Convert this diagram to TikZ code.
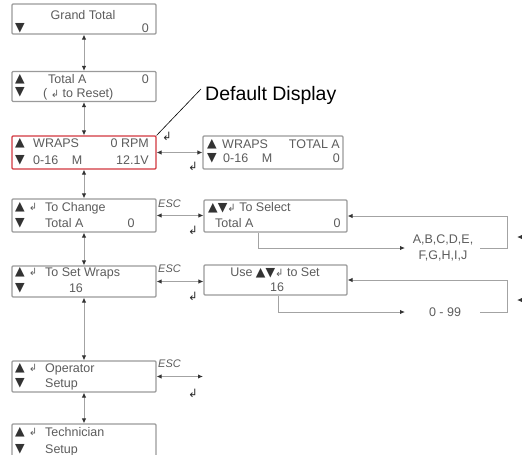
\documentclass[tikz,border=0pt]{standalone}
\usepackage{fontspec}
\setmainfont{Liberation Sans}
\newfontfamily\symfont{DejaVu Sans}
\usetikzlibrary{arrows.meta,positioning}
\definecolor{clcd}{HTML}{9A9A9A}
\definecolor{ctxt}{HTML}{5C5C5C}
\definecolor{cdef}{HTML}{D2373F}
\definecolor{cwire}{HTML}{A3A3A3}
\newcommand{\lcdup}{{\symfont\fontsize{12.5}{12.5}\selectfont\color{black!80}▲}}
\newcommand{\lcddn}{{\symfont\fontsize{12.5}{12.5}\selectfont\color{black!80}▼}}
\newcommand{\lcdent}{{\symfont\fontsize{10}{10}\selectfont ↲}}
\tikzset{
  lcd/.style={draw=clcd, line width=1.1pt, rounded corners=1pt, fill=white, minimum width=144pt, minimum height=31pt, inner sep=0pt},
  deflcd/.style={lcd, draw=cdef},
  txt/.style={font=\fontsize{12.5}{16}\selectfont, text=ctxt, inner sep=0pt},
  sym/.style={font=\symfont\fontsize{12.5}{12.5}\selectfont, text=black!80, inner sep=0pt},
  ksym/.style={font=\symfont\fontsize{10}{10}\selectfont, text=ctxt, inner sep=0pt},
  ent/.style={font=\symfont\fontsize{11.5}{11.5}\selectfont, text=black!85, inner sep=0pt},
  esc/.style={font=\itshape\fontsize{11}{12}\selectfont, text=ctxt, inner sep=0pt},
  ar/.style={draw=cwire, line width=1pt, ->},
  dar/.style={draw=cwire, line width=1pt, <->},
}
\begin{document}
\begin{tikzpicture}[x=1pt, y=-1pt, >={Latex[length=5pt,width=4.5pt,color=black!80]}]
\useasboundingbox (0,0) rectangle (522,455);
% main column
\node[lcd, minimum height=30pt] (gt) at (84,19) {};
\node[lcd, minimum height=30pt] (ta) at (84,86.5) {};
\node[deflcd, minimum height=33pt] (wr) at (84,152.5) {};
\node[lcd, minimum height=33pt] (tc) at (84,215.5) {};
\node[lcd] (sw) at (84,281.5) {};
\node[lcd] (op) at (84,376.5) {};
\node[lcd, minimum height=33pt] (te) at (84,440.5) {};
% second column
\node[lcd, minimum width=140pt, minimum height=33pt] (wt) at (273,152.5) {};
\node[lcd, minimum width=143pt, minimum height=32pt] (sel) at (275.5,216) {};
\node[lcd, minimum width=143pt, minimum height=30pt] (use) at (275.5,280) {};
% texts, main column
\node[txt, anchor=base] (gt1) at (83,19.5) {Grand Total};
\node[sym] (gtd) at (20,28) {▼};
\node[txt, anchor=base east] (gt2) at (149,32.5) {0};
\node[sym] (tau) at (20,79) {▲};
\node[txt, anchor=base west] (ta1) at (48,83.5) {Total A};
\node[txt, anchor=base east] (ta2) at (149,83.5) {0};
\node[sym] (tad) at (20,92.5) {▼};
\node[txt, anchor=base west] (ta3) at (43,97) {( \lcdent\ to Reset)};
\node[sym] (wru) at (20,143) {▲};
\node[txt, anchor=base west] (wr1) at (33,147.5) {WRAPS};
\node[txt, anchor=base east] (wr2) at (149,147.5) {0 RPM};
\node[sym] (wrd) at (20,160) {▼};
\node[txt, anchor=base west] (wr3) at (33,164.5) {0-16};
\node[txt, anchor=base] (wr4) at (77,164.5) {M};
\node[txt, anchor=base east] (wr5) at (149,164.5) {12.1V};
\node[sym] (tcu) at (20,207) {▲};
\node[ksym] (tce) at (33,207) {↲};
\node[txt, anchor=base west] (tc1) at (45,211.5) {To Change};
\node[sym] (tcd) at (20,223) {▼};
\node[txt, anchor=base west] (tc2) at (45,227.5) {Total A};
\node[txt, anchor=base] (tc3) at (131,227.5) {0};
\node[sym] (swu) at (20,272) {▲};
\node[ksym] (swe) at (33,272) {↲};
\node[txt, anchor=base west] (sw1) at (45,276.5) {To Set Wraps};
\node[sym] (swd) at (20,288) {▼};
\node[txt, anchor=base] (sw2) at (76,292.5) {16};
\node[sym] (opu) at (20,368) {▲};
\node[ksym] (ope) at (33,368) {↲};
\node[txt, anchor=base west] (op1) at (45,372.5) {Operator};
\node[sym] (opd) at (20,383) {▼};
\node[txt, anchor=base west] (op2) at (45,387.5) {Setup};
\node[sym] (teu) at (20,432) {▲};
\node[ksym] (tee) at (33,432) {↲};
\node[txt, anchor=base west] (te1) at (45,436.5) {Technician};
\node[sym] (ted) at (20,449) {▼};
\node[txt, anchor=base west] (te2) at (45,453.5) {Setup};
% texts, second column
\node[sym] (wtu) at (212,144) {▲};
\node[txt, anchor=base west] (wt1) at (222,148.5) {WRAPS};
\node[txt, anchor=base east] (wt2) at (340,148.5) {TOTAL A};
\node[sym] (wtd) at (212,158) {▼};
\node[txt, anchor=base west] (wt3) at (223,162.5) {0-16};
\node[txt, anchor=base] (wt4) at (267,162.5) {M};
\node[txt, anchor=base east] (wt5) at (340,162.5) {0};
\node[txt, anchor=base west] (sel1) at (208,211.5) {\lcdup\lcddn\lcdent\ To Select};
\node[txt, anchor=base west] (sel2) at (215,227.5) {Total A};
\node[txt, anchor=base] (sel3) at (337,227.5) {0};
\node[txt, anchor=base] (use1) at (275,276.5) {Use \lcdup\lcddn\lcdent\ to Set};
\node[txt, anchor=base] (use2) at (277,291.5) {16};
% choices
\node[txt, align=center] (abc) at (443,248) {A,B,C,D,E,\\F,G,H,I,J};
\node[txt] (num) at (445,312) {0 - 99};
% default display
\node[font=\fontsize{19.5}{20}\selectfont, anchor=base west, inner sep=0pt] (dd) at (205,100) {Default Display};
\coordinate (ddl) at (201,89);
\draw[line width=0.6pt] (wr.north east) -- (ddl);
% up/down
\draw[dar] (gt) -- (ta);
\draw[dar] (ta) -- (wr);
\draw[dar] (wr) -- (tc);
\draw[dar] (tc) -- (sw);
\draw[dar] (sw) -- (op);
\draw[dar] (op) -- (te);
% sideways
\draw[dar] (wr.east) -- (wt.west);
\draw[dar] (tc.east) -- (tc.east -| sel.west);
\draw[dar] (sw.east) -- (sw.east -| use.west);
\coordinate (opx) at (203,376.5);
\draw[dar] (op.east) -- (opx);
\node[esc, anchor=base west] (esc1) at (158,207) {ESC};
\node[esc, anchor=base west] (esc2) at (158,272) {ESC};
\node[esc, anchor=base west] (esc3) at (158,367) {ESC};
\node[ent] (en1) at (167,136) {↲};
\node[ent] (en2) at (193,166) {↲};
\node[ent] (en3) at (193,230) {↲};
\node[ent] (en4) at (193,296) {↲};
\node[ent] (en5) at (193,393) {↲};
% selection loops
\coordinate (selin) at (405,248);
\coordinate (selout) at (480,248);
\draw[ar] ([xshift=-17.5pt]sel.south) |- (selin);
\draw[ar] (selout) -- ++(27,0) |- (sel.east);
\coordinate (usein) at (405,312);
\coordinate (useout) at (480,312);
\draw[ar] ([xshift=2.5pt]use.south) |- (usein);
\draw[ar] (useout) -- ++(27,0) |- (use.east);
\coordinate (sta) at (530,237);
\coordinate (stae) at (517,237);
\draw[ar] (sta) -- (stae);
\coordinate (stb) at (530,300);
\coordinate (stbe) at (517,300);
\draw[ar] (stb) -- (stbe);
\end{tikzpicture}
\end{document}
